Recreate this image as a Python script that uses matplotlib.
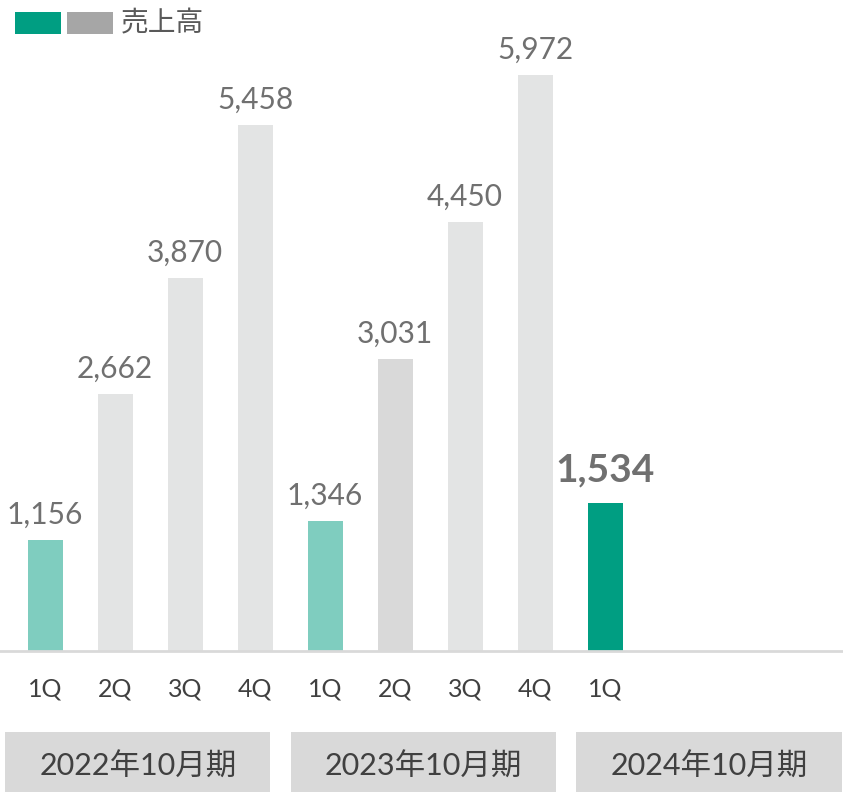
import matplotlib.pyplot as plt
from matplotlib.patches import Rectangle

plt.rcParams['font.family'] = ['Lato', 'Noto Sans CJK JP', 'DejaVu Sans']

# data
quarters = ['1Q', '2Q', '3Q', '4Q', '1Q', '2Q', '3Q', '4Q', '1Q']
sales = [1156, 2662, 3870, 5458, 1346, 3031, 4450, 5972, 1534]
periods = ['2022年10月期', '2023年10月期', '2024年10月期']
legend_label = '売上高'

bar_colors = ['#7fcdbf', '#e3e4e4', '#e3e4e4', '#e3e4e4',
              '#7fcdbf', '#d9d9d9', '#e3e4e4', '#e3e4e4', '#009e82']

fig = plt.figure(figsize=(8.43, 7.92), dpi=100)
ax = fig.add_axes([0, 141 / 792, 1, 651 / 792])

x = list(range(len(sales)))
ax.bar(x, sales, width=0.5, color=bar_colors, zorder=2)

for i, v in enumerate(sales):
    last = i == len(sales) - 1
    ax.annotate(f'{v:,}', (i, v), xytext=(0, 11 if last else 8), textcoords='offset points',
                ha='center', va='bottom', color='#707070',
                fontsize=28 if last else 21.5, fontweight='bold' if last else 'normal')

ax.set_xlim(-45 / 70, (843 - 45) / 70)
ax.set_ylim(0, 6750)
ax.set_yticks([])
ax.set_xticks(x)
ax.set_xticklabels(quarters, fontsize=18, color='#404040')
ax.tick_params(axis='x', length=0, pad=19)
for s in ['top', 'right', 'left']:
    ax.spines[s].set_visible(False)
ax.spines['bottom'].set_color('#d9d9d9')
ax.spines['bottom'].set_linewidth(2)
ax.patch.set_alpha(0)

# period boxes below the quarters
trans = ax.get_xaxis_transform()
for g, name in enumerate(periods):
    left = 4.08 * g - 0.57
    r = Rectangle((left, (651 - 792) / 651), 3.79, (792 - 732) / 651, transform=trans,
                  facecolor='#d9d9d9', edgecolor='none', clip_on=False)
    ax.add_patch(r)
    ax.text(left + 1.9, (651 - 767) / 651, name, transform=trans, ha='center', va='center',
            fontsize=22, color='#404040')

# legend
fig.patches.append(Rectangle((15 / 843, 1 - 34 / 792), 46 / 843, 22 / 792,
                             transform=fig.transFigure, facecolor='#009e82', edgecolor='none'))
fig.patches.append(Rectangle((67 / 843, 1 - 34 / 792), 46 / 843, 22 / 792,
                             transform=fig.transFigure, facecolor='#a6a6a6', edgecolor='none'))
fig.text(121 / 843, 1 - 23 / 792, legend_label, ha='left', va='center', fontsize=20, color='#595959')

fig.savefig('out.png', dpi=100)
